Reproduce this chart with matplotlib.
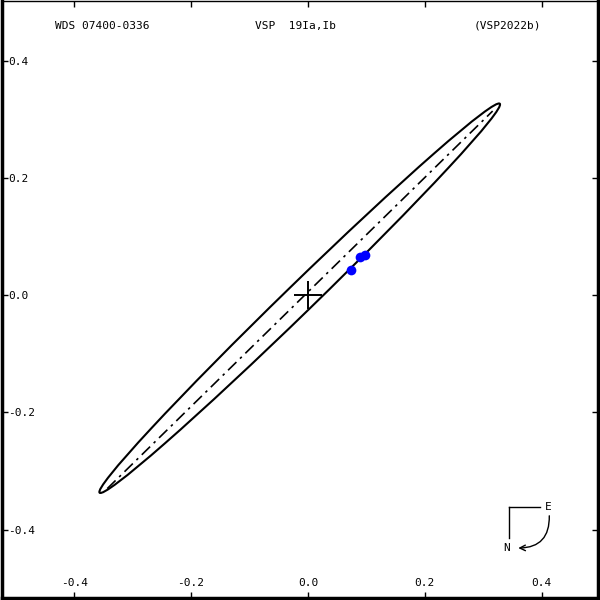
import matplotlib
import matplotlib.pyplot as plt
from matplotlib.patches import Ellipse
import numpy as np

matplotlib.use('Agg')

# apparent orbit (arcsec)
orbit_center = (-0.014, -0.005)
orbit_a = 0.477
orbit_b = 0.0245
orbit_angle = 44.1

# line of nodes end points
nodes_x = [-0.3435, 0.3163]
nodes_y = [-0.330, 0.3145]

# measurements
obs_x = [0.0735, 0.090, 0.097]
obs_y = [0.044, 0.0655, 0.069]

ticks = [-0.4, -0.2, 0.0, 0.2, 0.4]
tick_labels = ['-0.4', '-0.2', '0.0', '0.2', '0.4']

header = ['WDS 07400-0336', 'VSP  19Ia,Ib', '(VSP2022b)']

FONT = 'DejaVu Sans Mono'


def main():
    fig = plt.figure(figsize=(6, 6), dpi=100)
    ax = fig.add_axes([0.003, 0.004, 0.994, 0.995])

    ax.add_patch(Ellipse(orbit_center, 2 * orbit_a, 2 * orbit_b, angle=orbit_angle,
                         fill=False, edgecolor='k', lw=1.5))
    ax.plot(nodes_x, nodes_y, color='k', lw=1.2, dashes=(7, 3, 1.5, 3))
    ax.plot([0], [0], marker='+', ms=20, mew=1.4, color='k')
    ax.plot(obs_x, obs_y, 'o', ms=7, color='#0000ff', mec='none')

    ax.set_xlim(-0.524, 0.497)
    ax.set_ylim(-0.516, 0.503)

    ax.set_xticks(ticks)
    ax.set_xticklabels(tick_labels, fontfamily=FONT, fontsize=8)
    ax.set_yticks(ticks)
    ax.set_yticklabels(tick_labels, fontfamily=FONT, fontsize=8)
    ax.tick_params(axis='x', direction='in', length=4, width=1, top=True, pad=-14)
    ax.tick_params(axis='y', direction='in', length=4, width=1, right=True, pad=-4.5)
    for lab in ax.get_yticklabels():
        lab.set_horizontalalignment('left')

    for side in ['left', 'bottom', 'right']:
        ax.spines[side].set_linewidth(2.5)
    ax.spines['top'].set_linewidth(1)

    # header texts
    for txt, xpos in zip(header, [0.168, 0.492, 0.848]):
        ax.text(xpos, 0.958, txt, transform=ax.transAxes, ha='center', va='center',
                fontfamily=FONT, fontsize=8)

    # compass
    ax.plot([0.851, 0.902], [0.151, 0.151], color='k', lw=1, transform=ax.transAxes)
    ax.plot([0.851, 0.851], [0.151, 0.100], color='k', lw=1, transform=ax.transAxes)
    ax.text(0.917, 0.152, 'E', transform=ax.transAxes, ha='center', va='center',
            fontfamily=FONT, fontsize=8)
    ax.text(0.847, 0.083, 'N', transform=ax.transAxes, ha='center', va='center',
            fontfamily=FONT, fontsize=8)
    ax.annotate('', xy=(0.866, 0.083), xytext=(0.918, 0.137),
                xycoords='axes fraction', textcoords='axes fraction',
                arrowprops=dict(arrowstyle='->,head_length=0.4,head_width=0.2',
                                connectionstyle='arc3,rad=-0.5', color='k', lw=1,
                                shrinkA=0, shrinkB=0))

    fig.savefig('out.png', dpi=100)


if __name__ == '__main__':
    main()
